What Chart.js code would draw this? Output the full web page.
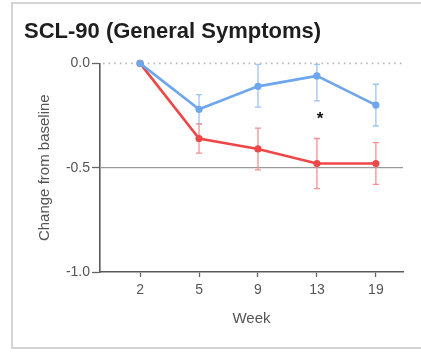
<!DOCTYPE html>
<html>
<head>
<meta charset="utf-8">
<title>SCL-90 (General Symptoms)</title>
<script src="https://cdn.jsdelivr.net/npm/chart.js@4.4.1/dist/chart.umd.min.js"></script>
<style>
  html, body { margin: 0; padding: 0; background: #ffffff; overflow: hidden; }
  #wrap { position: absolute; left: 0; top: 0; width: 421px; height: 352px; }
</style>
</head>
<body>
<div id="wrap"><canvas id="chart" width="421" height="352"></canvas></div>
<script>
// Visit weeks (x categories)
const weeks = ['2', '5', '9', '13', '19'];

// Mean change from baseline with error-bar bounds, per group
const blueMean = [0, -0.22, -0.11, -0.06, -0.20];
const blueLow  = [0, -0.29, -0.21, -0.18, -0.30];
const blueHigh = [0, -0.15, -0.005, -0.005, -0.10];

const redMean = [0, -0.36, -0.41, -0.48, -0.48];
const redLow  = [0, -0.43, -0.51, -0.60, -0.58];
const redHigh = [0, -0.29, -0.31, -0.36, -0.38];

// Y tick values
const yTicks = [0, -0.5, -1.0];

// Significance marker: week index and value
const sigWeekIndex = [3];
const sigValue = [-0.25];

const FONT = "'Liberation Sans', Arial, Helvetica, sans-serif";
const BLUE = '#6ea6ee', BLUE_ERR = '#9dc3f2';
const RED = '#ee4747', RED_ERR = '#f29090';

const toPoints = arr => arr.map((v, i) => ({ x: i, y: v }));

// Panel frame: top, left and bottom edges (open on the right)
const panelFrame = {
  id: 'panelFrame',
  beforeDraw(chart) {
    const { ctx, width, height } = chart;
    ctx.save();
    ctx.strokeStyle = '#d4d4d4';
    ctx.lineWidth = 2;
    ctx.beginPath();
    ctx.moveTo(width, 3);
    ctx.lineTo(12, 3);
    ctx.lineTo(12, height - 4);
    ctx.lineTo(width, height - 4);
    ctx.stroke();
    ctx.restore();
  }
};

// Error bars, drawn beneath the lines
const errorBars = {
  id: 'errorBars',
  beforeDatasetsDraw(chart) {
    const { ctx, scales: { x, y } } = chart;
    ctx.save();
    chart.data.datasets.forEach(ds => {
      ctx.strokeStyle = ds.errColor;
      ctx.lineWidth = 1.3;
      ds.low.forEach((lo, i) => {
        const hi = ds.high[i];
        if (lo === hi) return;
        const px = x.getPixelForValue(i);
        const p1 = y.getPixelForValue(lo);
        const p2 = y.getPixelForValue(hi);
        ctx.beginPath();
        ctx.moveTo(px, p1); ctx.lineTo(px, p2);
        ctx.moveTo(px - 3, p1); ctx.lineTo(px + 3, p1);
        ctx.moveTo(px - 3, p2); ctx.lineTo(px + 3, p2);
        ctx.stroke();
      });
    });
    ctx.restore();
  }
};

// Reference lines: dotted at zero, solid at -0.5
const refLines = {
  id: 'refLines',
  beforeDatasetsDraw(chart) {
    const { ctx, chartArea, scales: { y } } = chart;
    ctx.save();
    const y0 = y.getPixelForValue(0);
    ctx.strokeStyle = '#b8b8b8';
    ctx.lineWidth = 1.6;
    ctx.setLineDash([1.6, 4]);
    ctx.beginPath(); ctx.moveTo(chartArea.left + 3, y0); ctx.lineTo(chartArea.right, y0); ctx.stroke();
    ctx.setLineDash([]);
    const yh = y.getPixelForValue(-0.5);
    ctx.strokeStyle = '#9a9a9a';
    ctx.lineWidth = 1.2;
    ctx.beginPath(); ctx.moveTo(chartArea.left, yh); ctx.lineTo(chartArea.right, yh); ctx.stroke();
    ctx.restore();
  }
};

// Asterisk marking a significant difference
const sigMarks = {
  id: 'sigMarks',
  afterDatasetsDraw(chart) {
    const { ctx, scales: { x, y } } = chart;
    ctx.save();
    ctx.fillStyle = '#111';
    ctx.font = 'bold 17px ' + FONT;
    ctx.textAlign = 'center';
    ctx.textBaseline = 'middle';
    sigWeekIndex.forEach((wi, k) => {
      ctx.fillText('*', x.getPixelForValue(wi) + 3, y.getPixelForValue(sigValue[k]) + 4);
    });
    ctx.restore();
  }
};

new Chart(document.getElementById('chart'), {
  type: 'line',
  data: {
    datasets: [
      {
        label: 'Group 1',
        data: toPoints(blueMean),
        low: blueLow, high: blueHigh, errColor: BLUE_ERR,
        borderColor: BLUE, backgroundColor: BLUE,
        borderWidth: 2.6, pointRadius: 3.6, pointBorderWidth: 0,
        clip: false, order: 0
      },
      {
        label: 'Group 2',
        data: toPoints(redMean),
        low: redLow, high: redHigh, errColor: RED_ERR,
        borderColor: RED, backgroundColor: RED,
        borderWidth: 2.6, pointRadius: 3.6, pointBorderWidth: 0,
        clip: false, order: 1
      }
    ]
  },
  options: {
    responsive: false,
    animation: false,
    events: [],
    layout: { padding: { left: 24, right: 18, top: 0, bottom: 0 } },
    plugins: {
      legend: { display: false },
      tooltip: { enabled: false },
      title: {
        display: true,
        text: 'SCL-90 (General Symptoms)',
        align: 'start',
        color: '#1e1e1e',
        font: { family: FONT, size: 22, weight: 'bold', lineHeight: 1.2 },
        padding: { top: 19, bottom: 18 }
      }
    },
    scales: {
      x: {
        type: 'linear',
        min: -0.68,
        max: 4.46,
        afterBuildTicks(scale) {
          scale.ticks = weeks.map((w, i) => ({ value: i }));
        },
        afterFit(scale) { scale.height = 80; },
        ticks: {
          callback: v => weeks[v],
          color: '#555',
          padding: 5,
          font: { family: FONT, size: 14 }
        },
        grid: { drawOnChartArea: false, drawTicks: true, tickLength: 5, color: '#666', tickWidth: 1.3 },
        border: { display: true, color: '#5a5a5a', width: 1.6 },
        title: {
          display: true, text: 'Week', color: '#555',
          font: { family: FONT, size: 15 },
          padding: { top: 0, bottom: 24 }
        }
      },
      y: {
        min: -1,
        max: 0,
        afterBuildTicks(scale) {
          scale.ticks = yTicks.map(v => ({ value: v }));
        },
        afterFit(scale) { scale.width = 76; },
        ticks: {
          callback: v => v.toFixed(1),
          color: '#555',
          padding: 2,
          font: { family: FONT, size: 14 }
        },
        grid: { drawOnChartArea: false, drawTicks: true, tickLength: 8, color: '#666', tickWidth: 1.3 },
        border: { display: true, color: '#5a5a5a', width: 1.6 },
        title: {
          display: true, text: 'Change from baseline', color: '#555',
          font: { family: FONT, size: 15 },
          padding: { top: 12, bottom: 0 }
        }
      }
    }
  },
  plugins: [panelFrame, refLines, errorBars, sigMarks]
});
</script>
</body>
</html>
